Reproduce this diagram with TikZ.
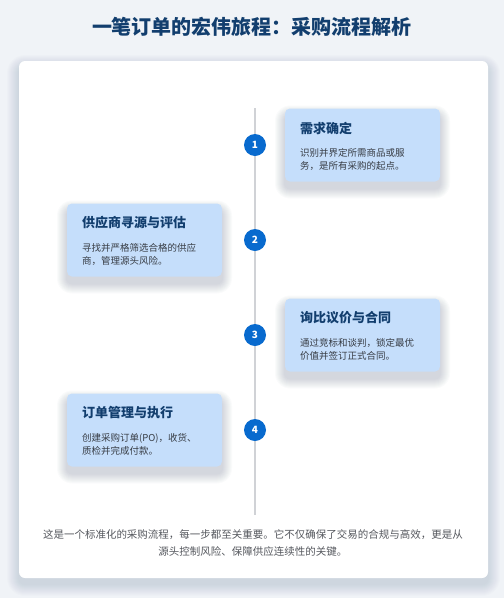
\documentclass[tikz,border=0pt]{standalone}
\usepackage{fontspec}
\setmainfont{Noto Sans CJK SC}
\usepackage{tikz}
\usetikzlibrary{positioning}
\definecolor{pagebg}{RGB}{240,243,247}
\definecolor{titleblue}{RGB}{18,62,110}
\definecolor{stepblue}{RGB}{8,106,206}
\definecolor{cardfill}{RGB}{197,222,251}
\definecolor{desctext}{RGB}{55,60,68}
\definecolor{linegray}{RGB}{208,210,214}
\definecolor{foottext}{RGB}{85,88,94}
\definecolor{shadowcol}{RGB}{40,60,90}
\tikzset{
  panel/.style={fill=white, rounded corners=6pt},
  softshade/.style={fill=shadowcol, fill opacity=0.012},
  stepcard/.style={fill=cardfill, rounded corners=5pt, minimum width=155pt, minimum height=73pt},
  stepdot/.style={circle, fill=stepblue, minimum size=22pt, inner sep=0pt, text=white,
                  font=\fontsize{10}{10}\selectfont\bfseries},
  cardtitle/.style={anchor=west, inner sep=0pt, text=titleblue, font=\fontsize{13}{15}\selectfont\bfseries},
  carddesc/.style={anchor=west, inner sep=0pt, align=left, text=desctext, font=\fontsize{9.5}{13}\selectfont},
  timeline/.style={linegray, line width=1.8pt},
}

\begin{document}
\begin{tikzpicture}[x=1pt, y=-1pt]
    \useasboundingbox (0,0) rectangle (504,598);
    \fill[pagebg] (0,0) rectangle (504,598);
    \node[text=titleblue, font=\fontsize{20}{24}\selectfont\bfseries] (maintitle) at (252,27) {一笔订单的宏伟旅程：采购流程解析};
    % white panel with soft shadow
    \foreach \s in {1,...,12}
      \fill[softshade, rounded corners={(6+\s)*1pt}] (19-\s,61-\s+6) rectangle (488+\s,578+\s+6);
    \fill[panel] (19,61) rectangle (488,578);
    % vertical axis
    \coordinate (axtop) at (255,108);
    \coordinate (axbot) at (255,515);
    \draw[timeline] (axtop) -- (axbot);
    % steps
    \foreach \i/\bx/\by/\ttl/\desc in {
      1/362.5/145/{需求确定}/{识别并界定所需商品或服\\务，是所有采购的起点。},
      2/144.5/240/{供应商寻源与评估}/{寻找并严格筛选合格的供应\\商，管理源头风险。},
      3/362.5/335/{询比议价与合同}/{通过竞标和谈判，锁定最优\\价值并签订正式合同。},
      4/144.5/430/{订单管理与执行}/{创建采购订单(PO)，收货、\\质检并完成付款。}}{
      \foreach \s in {1,...,10}
        \fill[softshade, fill opacity=0.018, rounded corners={(5+\s)*1pt}]
          (\bx-77.5-\s,\by-36.5-\s+7) rectangle (\bx+77.5+\s,\by+36.5+\s+7);
      \node[stepcard] (card\i) at (\bx,\by) {};
      \node[cardtitle] (ttl\i) at (\bx-62.5,\by-17) {\ttl};
      \node[carddesc] (desc\i) at (\bx-62.5,\by+14.5) {\desc};
      \node[stepdot] (dot\i) at (255,\by) {\i};
    }
    \node[text=foottext, align=center, font=\fontsize{10.5}{17}\selectfont] (footnote) at (253,542.5)
      {这是一个标准化的采购流程，每一步都至关重要。它不仅确保了交易的合规与高效，更是从\\源头控制风险、保障供应连续性的关键。};
\end{tikzpicture}
\end{document}
